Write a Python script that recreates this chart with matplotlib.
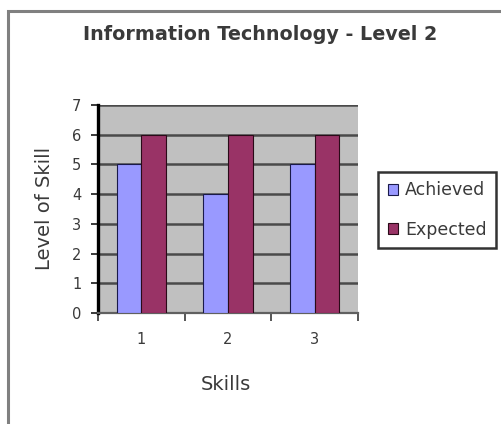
import matplotlib
matplotlib.use("Agg")
import matplotlib.pyplot as plt
from matplotlib.patches import Rectangle
import numpy as np

# chart data
skills = ["1", "2", "3"]
achieved = [5, 4, 5]
expected = [6, 6, 6]
y_ticks = [0, 1, 2, 3, 4, 5, 6, 7]

W, H = 501, 424
fig = plt.figure(figsize=(W / 100, H / 100), dpi=100)
fig.patch.set_facecolor("white")

text_col = "#3a3a3a"

# outer chart frame (only the left and top edges show in the crop)
fig.add_artist(Rectangle((7.5 / W, -0.05), 1.2, (H - 11) / H + 0.05,
                         transform=fig.transFigure, fill=False,
                         edgecolor="#808080", linewidth=2.2))

# plot area in pixels: x 98..358, y 105..313
ax = fig.add_axes([98 / W, (H - 313) / H, (358 - 98) / W, (313 - 105) / H])
ax.set_facecolor("#c0c0c0")

x = np.arange(len(skills))
width = 1 / 3.5
ax.bar(x - width / 2, achieved, width, color="#9999ff", edgecolor="#1a1a4a",
       linewidth=0.8, label="Achieved", zorder=3)
ax.bar(x + width / 2, expected, width, color="#993366", edgecolor="#2a0a18",
       linewidth=0.8, label="Expected", zorder=3)

ax.set_xlim(-0.5, len(skills) - 0.5)
ax.set_ylim(0, 7)
ax.set_yticks(y_ticks)
ax.set_xticks(x)
ax.set_xticklabels(skills)
ax.yaxis.grid(True, color="#4a4a4a", linewidth=1.8, zorder=1)
ax.set_axisbelow(True)

for side in ["top", "right"]:
    ax.spines[side].set_visible(False)
ax.spines["left"].set_color("black")
ax.spines["left"].set_linewidth(2.4)
ax.spines["bottom"].set_color("#606060")
ax.spines["bottom"].set_linewidth(1.6)

ax.tick_params(axis="y", length=5, width=1.4, colors=text_col, labelsize=10.5, pad=7)
ax.tick_params(axis="x", colors=text_col, labelsize=10.5, pad=14)
# category boundary ticks
ax.set_xticks([-0.5, 0.5, 1.5, 2.5], minor=True)
ax.tick_params(axis="x", which="minor", length=6, width=1.4, color="#555555")
ax.tick_params(axis="x", which="major", length=0)

fig.text(226 / W, 1 - 385 / H, "Skills", ha="center", va="center",
         fontsize=14, color=text_col)
fig.text(44 / W, 1 - 208 / H, "Level of Skill", ha="center", va="center",
         rotation=90, fontsize=14, color=text_col)

fig.text(260 / W, 1 - 34 / H, "Information Technology - Level 2",
         ha="center", va="center", fontsize=13.8, fontweight="bold", color=text_col)

leg = fig.legend(loc="center", bbox_to_anchor=(437 / W, 1 - 210 / H),
                 fontsize=12.5, frameon=True, fancybox=False, edgecolor="black",
                 handlelength=0.6, handleheight=0.6, handletextpad=0.4,
                 labelspacing=1.25, borderpad=0.55, borderaxespad=0)
leg.get_frame().set_linewidth(1.8)
for t in leg.get_texts():
    t.set_color(text_col)

fig.savefig("out.png", dpi=100)
